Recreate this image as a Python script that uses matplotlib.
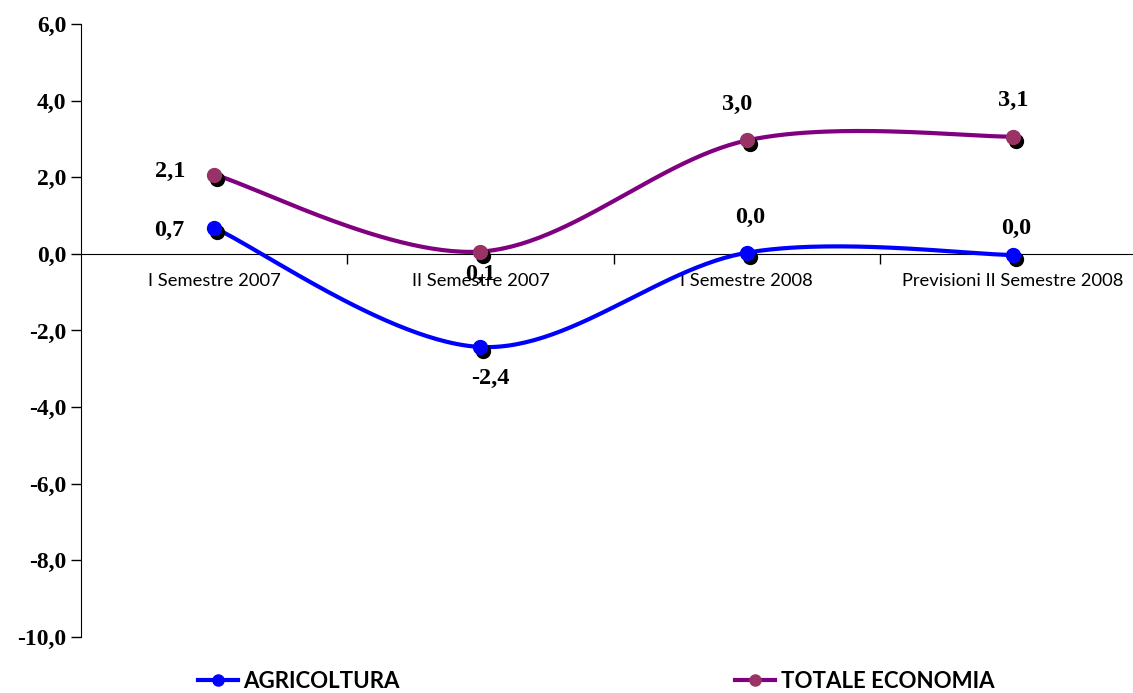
import numpy as np
import matplotlib
matplotlib.use("Agg")
import matplotlib.pyplot as plt
from matplotlib.transforms import offset_copy

categorie = ["I Semestre 2007", "II Semestre 2007", "I Semestre 2008", "Previsioni II Semestre 2008"]
agricoltura = [0.68, -2.43, 0.03, -0.03]
totale = [2.07, 0.06, 2.96, 3.06]


def smooth(y, n=60):
    # curva di Bezier come lo "smussamento" di Excel
    x = np.arange(len(y), dtype=float)
    p = np.column_stack([x, np.asarray(y, float)])
    pts = []
    for i in range(len(p) - 1):
        p0 = p[i - 1] if i > 0 else p[i]
        p3 = p[i + 2] if i + 2 < len(p) else p[i + 1]
        c1 = p[i] + (p[i + 1] - p0) / 6
        c2 = p[i + 1] - (p3 - p[i]) / 6
        t = np.linspace(0, 1, n)[:, None]
        seg = ((1 - t) ** 3 * p[i] + 3 * (1 - t) ** 2 * t * c1
               + 3 * (1 - t) * t ** 2 * c2 + t ** 3 * p[i + 1])
        pts.append(seg if i == 0 else seg[1:])
    pts = np.vstack(pts)
    return pts[:, 0], pts[:, 1]


def fmt(v):
    s = f"{v:.1f}".replace(".", ",")
    return "0,0" if s == "-0,0" else s


fig = plt.figure(figsize=(11.33, 6.93), dpi=100)
ax = fig.add_axes([0.0715, 0.0808, 0.9285, 0.8846])

serie = [
    ("AGRICOLTURA", agricoltura, "#0000FF", "#0000FF",
     [(-45, -3), (10, -31), (3, 35), (3, 27)]),
    ("TOTALE ECONOMIA", totale, "#800080", "#993366",
     [(-44, 3), (0, -23), (-10, 36), (0, 36)]),
]

shadow = offset_copy(ax.transData, fig=fig, x=3, y=-4, units="dots")
x = np.arange(len(categorie))
for nome, vals, col, mcol, offs in serie:
    xs, ys = smooth(vals)
    ax.plot(xs, ys, color=col, lw=3, zorder=3, solid_capstyle="round")
    ax.plot(x, vals, "o", color="black", ms=10, transform=shadow, zorder=4)
    ax.plot(x, vals, "o", color=mcol, ms=10, zorder=5)
    ax.plot([], [], "-o", color=col, mfc=mcol, mec=mcol, lw=3, ms=8, label=nome)
    for xi, v, (dx, dy) in zip(x, vals, offs):
        ax.annotate(fmt(v), (xi, v), xytext=(dx, dy), textcoords="offset pixels",
                    ha="center", va="center", fontsize=17.5, fontweight="bold",
                    family="Liberation Serif", zorder=6)

ax.set_xlim(-0.5, 3.45)
ax.set_ylim(-10, 6)
ax.set_yticks(np.arange(-10, 7, 2))
ax.set_yticklabels([fmt(v) for v in np.arange(-10, 7, 2)],
                   fontsize=17, fontweight="bold", family="Liberation Serif")
ax.tick_params(axis="y", direction="out", length=7, width=1)

ax.spines["top"].set_visible(False)
ax.spines["right"].set_visible(False)
ax.spines["bottom"].set_position(("data", 0))
ax.set_xticks([0.5, 1.5, 2.5])
ax.set_xticklabels([])
ax.tick_params(axis="x", which="major", direction="out", length=7, width=1)
ax.set_xticks(x, minor=True)
ax.set_xticklabels(categorie, minor=True, fontsize=13.2, family="Lato")
ax.tick_params(axis="x", which="minor", length=0, pad=14)

leg = fig.legend(loc="lower left", bbox_to_anchor=(0.157, -0.027), ncol=2,
                 frameon=False, handlelength=1.8, handletextpad=0.25,
                 columnspacing=15.1,
                 prop={"family": "Lato", "weight": "bold", "size": 16})

fig.savefig("out.png", dpi=100)
